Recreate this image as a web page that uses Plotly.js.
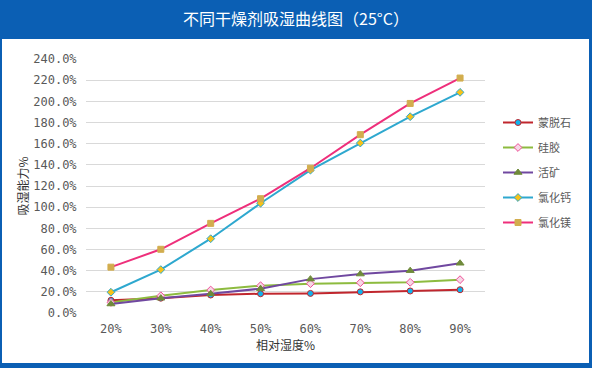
<!DOCTYPE html>
<html><head><meta charset="utf-8">
<script src="https://cdn.plot.ly/plotly-3.0.1.min.js"></script>
<style>html,body{margin:0;padding:0;background:#0b5fb4;}#c{width:592px;height:368px;}</style>
</head><body><div id="c"></div>
<script>
const categories = ['20%','30%','40%','50%','60%','70%','80%','90%'];
const montmorillonite = [12, 14, 17, 18.2, 18.5, 20, 20.8, 22];   // 蒙脱石
const silicaGel      = [10, 16.3, 21.7, 25.8, 27.7, 28.6, 29, 31.5]; // 硅胶
const activeMineral  = [8.5, 14, 18.2, 23, 32, 36.8, 40, 47];     // 活矿
const calciumChloride= [19.6, 41, 70.2, 103.7, 135, 160.6, 185.5, 208.5]; // 氯化钙
const magnesiumChloride = [43.3, 60.2, 84.7, 108, 136.8, 168.5, 198, 222]; // 氯化镁
const seriesNames = ['蒙脱石','硅胶','活矿','氯化钙','氯化镁'];
const yTickVals = [0,20,40,60,80,100,120,140,160,180,200,220,240];
const yTickText = yTickVals.map(v => v.toFixed(1) + '%');

const cjk = '"Noto Sans CJK SC", "Noto Sans", sans-serif';
const mono = '"DejaVu Sans Mono", monospace';

function tr(y, name, lineColor, sym, mFill, mLine, msize, grp) {
  return {
    x: categories, y: y, name: name, type: 'scatter', mode: 'lines+markers',
    legendgroup: grp,
    line: {color: lineColor, width: 2},
    marker: {symbol: sym, size: msize, color: mFill, line: {color: mLine, width: 1}}
  };
}
const data = [
  tr(montmorillonite, seriesNames[0], '#c0262d', 'circle', '#10b3ee', '#c0262d', 6, 'a'),
  tr(silicaGel, seriesNames[1], '#8dbb3f', 'diamond', '#f7d6e6', '#ee4f95', 6, 'b'),
  tr(activeMineral, seriesNames[2], '#7048a0', 'triangle-up', '#6f8a3a', '#6f8a3a', 7, 'c'),
  tr(calciumChloride, seriesNames[3], '#2ea8cf', 'diamond', '#f6c21a', '#2ea8cf', 6, 'd'),
  tr(magnesiumChloride, seriesNames[4], '#ee2f7b', 'square', '#d2ad4e', '#d2ad4e', 6, 'e')
];

const layout = {
  width: 592, height: 368,
  margin: {l: 86, r: 107, t: 59, b: 55},
  paper_bgcolor: '#0b5fb4', plot_bgcolor: '#ffffff',
  showlegend: true,
  title: {text: '不同干燥剂吸湿曲线图（25°C）', font: {family: cjk, size: 16, color: '#ffffff'},
          xref: 'container', yref: 'container', x: 0.5, y: 0.948, xanchor: 'center', yanchor: 'middle'},
  shapes: [{type: 'rect', xref: 'paper', yref: 'paper', layer: 'below',
            x0: (2-86)/399, x1: (589-86)/399, y0: (313-363)/254, y1: (313-39)/254,
            fillcolor: '#ffffff', line: {width: 0}}],
  xaxis: {
    type: 'category', range: [-0.5, 7.5], showgrid: false, zeroline: false,
    showline: false, ticks: 'outside', ticklen: 5, tickcolor: 'rgba(0,0,0,0)',
    tickfont: {family: mono, size: 12, color: '#595959'},
    title: {text: '相对湿度%', font: {family: cjk, size: 12, color: '#333333'}, standoff: 6}
  },
  yaxis: {
    range: [0, 240], tickvals: yTickVals, ticktext: yTickText,
    showgrid: true, gridcolor: '#d9d9d9', gridwidth: 1, zeroline: false,
    showline: false, ticks: 'outside', ticklen: 6, tickcolor: 'rgba(0,0,0,0)',
    tickfont: {family: mono, size: 12, color: '#595959'},
    title: {text: '吸湿能力%', font: {family: cjk, size: 12, color: '#333333'}, standoff: 2}
  },
  legend: {x: (498-86)/399, y: (313-108)/254, xanchor: 'left', yanchor: 'top',
           bgcolor: 'rgba(0,0,0,0)', tracegroupgap: 6, traceorder: 'grouped',
           font: {family: cjk, size: 11, color: '#595959'}}
};
Plotly.newPlot('c', data, layout, {displayModeBar: false, staticPlot: true});
</script></body></html>
